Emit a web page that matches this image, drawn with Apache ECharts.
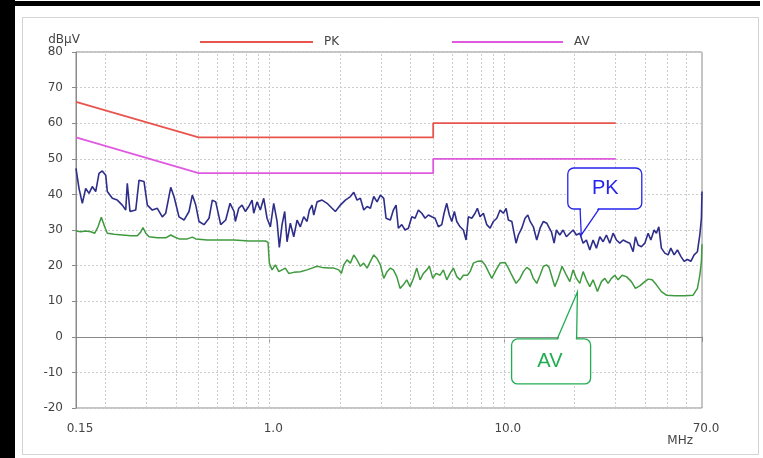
<!DOCTYPE html>
<html>
<head>
<meta charset="utf-8">
<script src="https://cdn.jsdelivr.net/npm/echarts@6/dist/echarts.min.js"></script>
<style>
html,body{margin:0;padding:0;background:#fff;}
#chart{width:763px;height:458px;}
</style>
</head>
<body>
<div id="chart"></div>
<script>
// ---- Data (frequency in MHz, level in dBµV) ----
const limitFreq = [0.15, 0.5, 5, 5, 30];
const pkLimit = [66, 56, 56, 60, 60];
const avLimit = [56, 46, 46, 50, 50];

const pkFreq = [0.15,0.1545,0.1596,0.165,0.1704,0.176,0.182,0.188,0.1942,0.2008,0.204,0.2143,0.225,0.2363,0.2444,0.2482,0.2549,0.2696,0.2785,0.2925,0.3022,0.3173,0.3333,0.35,0.3619,0.3802,0.3926,0.4124,0.4331,0.455,0.47,0.486,0.5018,0.527,0.5537,0.5719,0.5913,0.621,0.6523,0.6806,0.7078,0.717,0.7414,0.7656,0.7908,0.8177,0.8447,0.8587,0.8871,0.9163,0.9474,0.9786,1.011,1.045,1.08,1.104,1.134,1.164,1.191,1.23,1.272,1.314,1.357,1.403,1.449,1.483,1.522,1.548,1.599,1.68,1.764,1.853,1.914,2.01,2.111,2.218,2.293,2.368,2.446,2.529,2.613,2.699,2.79,2.882,2.977,3.078,3.148,3.284,3.382,3.473,3.552,3.673,3.794,3.919,4.053,4.186,4.324,4.471,4.618,4.77,4.932,5.093,5.261,5.44,5.564,5.713,5.861,6.003,6.157,6.304,6.511,6.725,6.906,7.063,7.303,7.544,7.716,7.923,8.185,8.463,8.742,9.031,9.336,9.643,9.96,10.23,10.46,10.82,11.28,11.54,11.93,12.32,12.66,12.95,13.37,13.82,14.28,14.75,15.25,15.6,15.96,16.39,16.76,17.33,17.9,18.49,19.12,19.75,20.4,21.09,21.79,22.5,23.26,24.03,24.83,25.67,26.52,27.39,28.31,29.25,30.21,31.24,32.27,33.33,34.46,35.6,36.41,37.39,38.62,39.93,41.25,42.36,43.75,44.75,45.81,46.99,48.59,50.19,51.54,53.24,55,56.86,58.74,60.68,62.74,64.8,66.93,68.52,69.6,70];
const pkLevel = [47.3,41.7,37.5,41.7,40.3,42.2,40.8,45.9,46.6,45.4,40.8,38.9,38.4,37,35.6,43.1,35.2,35.6,44,43.6,37,35.6,36.1,33.7,34.7,42,39.4,33.7,32.8,35.2,39.8,37,32.4,31.5,33.3,38.4,37.9,31.5,32.8,37.5,35.2,32.4,36.1,37,35.2,36.6,38.4,34.7,37.9,35.6,38.9,33.3,30.9,37.5,32.4,25.1,31.5,35.2,26.7,31.9,28.1,32.8,30.9,33.7,32.4,35.6,37,34.2,37.9,38.4,37.5,36.1,35.2,37,38.4,39.4,40.6,38.4,38.9,35.6,36.6,36.1,39.4,37.9,39.8,38.9,33.3,32.8,35.6,37,30.5,31.5,30,30.5,33.7,33.3,35.6,34.7,33.3,34.2,33.7,33.3,30.9,31.5,34.7,37.5,34.2,32.4,35.2,32.4,30.9,30,27.2,33.7,33.3,34.7,36.1,33.7,34.7,31.5,30.5,32.4,33.3,35.6,34.7,36.1,32.8,32.4,26.3,28.6,30.5,33.3,34.2,32.4,30.9,27.2,30.5,32.4,31.9,30.7,29.5,26.3,30,28.6,30,28.1,29.1,30,28.6,29.1,26.3,27.2,24.4,27.2,24.9,28.1,26.7,28.6,26.3,29.1,27.2,26.3,27.2,26.7,26.3,23.9,28.1,25.8,25.3,26.3,29.1,27.2,30,29.1,30.9,24.9,23.5,23,24.9,23,24.4,22.6,21.2,21.7,21.2,23,23.9,28.6,33.3,40.8];

const avFreq = [0.15,0.1571,0.165,0.1733,0.1803,0.1862,0.1923,0.1988,0.204,0.2179,0.2363,0.2567,0.2739,0.2831,0.2896,0.2974,0.3073,0.3333,0.3619,0.3802,0.3926,0.4124,0.4474,0.47,0.486,0.5445,0.621,0.7078,0.8177,0.9625,0.9883,1.001,1.028,1.062,1.098,1.134,1.171,1.211,1.272,1.357,1.449,1.522,1.599,1.68,1.794,1.884,1.979,2.03,2.078,2.147,2.218,2.293,2.368,2.446,2.529,2.613,2.699,2.79,2.882,2.977,3.078,3.179,3.284,3.382,3.497,3.612,3.731,3.857,3.985,4.117,4.256,4.397,4.542,4.696,4.817,4.98,5.144,5.35,5.526,5.713,5.902,6.096,6.304,6.511,6.725,6.995,7.183,7.419,7.716,8.058,8.323,8.597,8.889,9.274,9.643,10.13,10.46,10.82,11.28,11.73,12.12,12.54,12.95,13.37,13.82,14.28,14.75,15.25,15.6,15.96,16.5,17.04,17.72,18.49,19.12,19.75,20.4,21.09,21.79,22.5,23.26,24.03,25.07,26.08,26.96,27.85,28.77,29.74,30.72,31.95,33.33,35.0,36.41,38.02,39.93,41.25,42.9,44.75,46.99,49.36,53.6,59.15,64.17,66.93,68.52,69.6,70];
const avLevel = [29.7,29.5,29.7,29.5,29.1,30.9,33.6,30.9,29.1,28.8,28.6,28.4,28.4,29.4,30.7,29.1,28.1,27.8,27.8,28.6,28.1,27.5,27.5,28,27.5,27.2,27.2,27.2,26.9,26.9,26.5,20.7,18.8,20.2,18.3,18.8,19.3,17.8,18.1,18.3,18.8,19.3,19.8,19.5,19.3,19.3,18.8,17.8,20.2,21.6,20.7,23,21.6,19.8,20.7,19.3,21.2,23,22,20.2,16.4,18.3,19.3,18.8,16.9,13.6,14.6,16,14.1,16.4,19.3,16,17.8,18.8,19.8,16.4,17.8,17.3,18.8,16,17.8,19.3,16.9,16,17.3,17.3,18.3,20.7,21.2,21.3,20.2,18.3,16.4,18.8,20.7,20.9,19.3,17.3,15,16.4,18.3,19.5,18.8,16.4,15,17.3,19.8,20.2,19.5,17.3,14.1,16.4,19.8,17.3,15.5,18.8,16.4,15,18.3,16,14.1,16,12.7,15.5,16.4,15,16.4,17.3,16,17.3,16.9,15.5,13.6,14.3,15.5,16.2,16,14.6,12.7,11.7,11.5,11.5,11.7,13.6,17.3,21.2,26];

// vertical log grid lines (MHz)
const gridFreqs = [0.2,0.3,0.4,0.5,0.6,0.7,0.8,0.9,1,2,3,4,5,6,7,8,9,10,20,30,40,50,60];
// callout tips (MHz, dBµV)
const pkCalloutTip = [21.4, 28.6];
const avCalloutTip = [20.6, 12.6];

const zip = (a, b) => a.map((v, i) => [v, b[i]]);
const FONT = '"DejaVu Sans", Verdana, sans-serif';

const chart = echarts.init(document.getElementById('chart'), null, {renderer: 'canvas'});

const option = {
  animation: false,
  backgroundColor: '#ffffff',
  grid: {left: 76, top: 52, right: 61, bottom: 50, show: true, borderColor: '#8a8a8a', borderWidth: 1, backgroundColor: '#fff'},
  legend: [
    {data: ['PK'], left: 195, top: 31, icon: 'rect', itemWidth: 113, itemHeight: 2, selectedMode: false,
     textStyle: {fontFamily: FONT, fontSize: 12, color: '#444', padding: [0, 0, 0, 6]}},
    {data: ['AV'], left: 447, top: 31, icon: 'rect', itemWidth: 111, itemHeight: 2, selectedMode: false,
     textStyle: {fontFamily: FONT, fontSize: 12, color: '#444', padding: [0, 0, 0, 6]}}
  ],
  xAxis: {
    type: 'log', logBase: 10, min: 0.15, max: 70,
    axisLine: {lineStyle: {color: '#8a8a8a', width: 1}},
    axisTick: {show: true, length: 5, lineStyle: {color: '#8a8a8a'}},
    axisLabel: {fontFamily: FONT, fontSize: 12, color: '#444', margin: 15, padding: [0, 0, 0, 8],
      formatter: v => (v < 1 ? v.toFixed(2) : v.toFixed(1))},
    splitLine: {show: false}
  },
  yAxis: {
    type: 'value', min: -20, max: 80, interval: 10,
    name: 'dBµV', nameLocation: 'end', nameGap: 4,
    nameTextStyle: {fontFamily: FONT, fontSize: 12, color: '#444', align: 'center', padding: [0, 24, 0, 0]},
    axisLine: {show: true, lineStyle: {color: '#8a8a8a', width: 1}},
    axisTick: {show: true, length: 4, lineStyle: {color: '#8a8a8a'}},
    axisLabel: {fontFamily: FONT, fontSize: 12, color: '#444', margin: 13},
    splitLine: {show: true, lineStyle: {color: '#cccccc', type: [2, 2], width: 1}}
  },
  series: [
    {name: 'PK', type: 'line', data: zip(limitFreq, pkLimit), symbol: 'none', silent: true,
     color: '#e8554e', lineStyle: {width: 1.8}, z: 3,
     markLine: {silent: true, symbol: 'none', z: 1, label: {show: false},
       lineStyle: {color: '#cccccc', type: [2, 2], width: 1},
       data: gridFreqs.map(f => ({xAxis: f}))}},
    {name: 'AV', type: 'line', data: zip(limitFreq, avLimit), symbol: 'none', silent: true,
     color: '#e05ae0', lineStyle: {width: 1.8}, z: 3},
    {name: 'PK trace', type: 'line', data: zip(pkFreq, pkLevel), symbol: 'none', silent: true,
     color: '#2e2e8a', lineStyle: {width: 1.6}, z: 4},
    {name: 'AV trace', type: 'line', data: zip(avFreq, avLevel), symbol: 'none', silent: true,
     color: '#3f9a3f', lineStyle: {width: 1.5}, z: 4}
  ]
};
chart.setOption(option);

const toPx = p => chart.convertToPixel({xAxisIndex: 0, yAxisIndex: 0}, p);
const pkTip = toPx(pkCalloutTip);
const avTip = toPx(avCalloutTip);
const axisEnd = toPx([70, -20]);
const BLUE = '#2424ee', GREEN = '#22ad52';
const FONT_CALLOUT = '20px "Liberation Sans", Arial, sans-serif';

// callout: rounded box + pointer toward the tip (offsets relative to the tip)
function callout(tip, box, base, color, label, textOff) {
  const [x, y] = tip;
  const by = base.y;
  return [
    {type: 'rect', shape: {x: x + box.L, y: y + box.T, width: box.R - box.L, height: box.B - box.T, r: 6},
     style: {fill: '#fff', stroke: color, lineWidth: 1.3}, silent: true, z: 10},
    {type: 'polygon', shape: {points: [[x + base.a + 0.8, y + by + (by > 0 ? 1.2 : -1.2)], [x, y], [x + base.b - 0.8, y + by + (by > 0 ? 1.2 : -1.2)]]},
     style: {fill: '#fff', stroke: null}, silent: true, z: 11},
    {type: 'polyline', shape: {points: [[x + base.a, y + by], [x, y], [x + base.b, y + by]]},
     style: {fill: null, stroke: color, lineWidth: 1.3}, silent: true, z: 12},
    {type: 'text', x: x + textOff[0], y: y + textOff[1], z: 13, silent: true,
     style: {text: label, fill: color, font: FONT_CALLOUT, align: 'center', verticalAlign: 'middle'}}
  ];
}

chart.setOption({
  graphic: [
    {type: 'rect', shape: {x: 22.5, y: 17.5, width: 736, height: 437}, style: {fill: null, stroke: '#d4d4d4', lineWidth: 1}, silent: true, z: -1},
    {type: 'rect', shape: {x: 0, y: 0, width: 15, height: 458}, style: {fill: '#000'}, silent: true},
    {type: 'rect', shape: {x: 0, y: 1, width: 760, height: 5}, style: {fill: '#000'}, silent: true},
    {type: 'text', x: axisEnd[0] - 9, y: axisEnd[1] + 33, silent: true,
     style: {text: 'MHz', fill: '#444', font: '12px ' + FONT, align: 'right', verticalAlign: 'middle'}},
    ...callout(pkTip, {L: -13.5, R: 60.5, T: -67, B: -26}, {a: -1.2, b: 17.8, y: -26}, BLUE, 'PK', [24, -46]),
    ...callout(avTip, {L: -65.8, R: 13.2, T: 47, B: 92}, {a: -20.2, b: -0.8, y: 47}, GREEN, 'AV', [-27.5, 70])
  ]
});
</script>
</body>
</html>
